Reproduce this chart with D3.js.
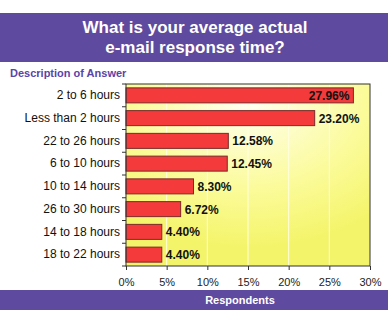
<!DOCTYPE html>
<html><head><meta charset="utf-8">
<script src="https://cdn.jsdelivr.net/npm/d3@7/dist/d3.min.js"></script>
<style>body{margin:0;background:#fff}svg{display:block;font-family:"Liberation Sans",Arial,sans-serif}</style>
</head><body><svg id="c" width="390" height="329"></svg>
<script>
const categories = ["2 to 6 hours","Less than 2 hours","22 to 26 hours","6 to 10 hours","10 to 14 hours","26 to 30 hours","14 to 18 hours","18 to 22 hours"];
const values = [27.96,23.20,12.58,12.45,8.30,6.72,4.40,4.40];
const xTicks = [0,5,10,15,20,25,30];
const titleLines = ["What is your average actual","e-mail response time?"];

const svg = d3.select("#c");
const L=126,R=370,T=84,B=266;
const x = d3.scaleLinear().domain([0,30]).range([L,R]);
const y = d3.scaleBand().domain(categories).range([T,B]).paddingInner(0.34).paddingOuter(0.17);

const defs = svg.append("defs");
const g = defs.append("radialGradient").attr("id","bg").attr("cx","0.5").attr("cy","0.1").attr("r","0.8");
g.append("stop").attr("offset","0").attr("stop-color","#fffff2");
g.append("stop").attr("offset","0.6").attr("stop-color","#fbfb9a");
g.append("stop").attr("offset","1").attr("stop-color","#f4f46a");

// title band
svg.append("rect").attr("x",0).attr("y",13).attr("width",388).attr("height",49).attr("fill","#5e4a9e");
svg.selectAll("text.t").data(titleLines).enter().append("text").attr("class","t")
 .attr("x",195).attr("y",(d,i)=>33+i*20).attr("text-anchor","middle").attr("fill","#fff")
 .attr("font-weight","bold").attr("font-size",17).text(d=>d);

svg.append("text").attr("x",10).attr("y",77).attr("fill","#5a44a8").attr("font-weight","bold").attr("font-size",11).text("Description of Answer");

// plot bg
svg.append("rect").attr("x",L).attr("y",T).attr("width",R-L).attr("height",B-T).attr("fill","url(#bg)");
// grid
svg.selectAll("line.g").data(xTicks.slice(1,-1)).enter().append("line")
 .attr("x1",d=>x(d)).attr("x2",d=>x(d)).attr("y1",T).attr("y2",B).attr("stroke","#ffffe0").attr("stroke-width",1);
// bars
svg.selectAll("rect.b").data(values).enter().append("rect")
 .attr("x",x(0)).attr("y",(d,i)=>y(categories[i])).attr("width",d=>x(d)-x(0)).attr("height",y.bandwidth())
 .attr("fill","#f43a3a").attr("stroke","#7a2a2a").attr("stroke-width",1);
// value labels
svg.selectAll("text.v").data(values).enter().append("text")
 .attr("x",(d,i)=> i===0 ? x(d)-4 : x(d)+4)
 .attr("text-anchor",(d,i)=> i===0 ? "end":"start")
 .attr("y",(d,i)=>y(categories[i])+y.bandwidth()/2+4.5)
 .attr("font-weight","bold").attr("font-size",12).attr("fill","#111")
 .text(d=>d.toFixed(2)+"%");
// frame
svg.append("rect").attr("x",L).attr("y",T).attr("width",R-L).attr("height",B-T).attr("fill","none").attr("stroke","#333").attr("stroke-width",1);

// axes
const ya = svg.append("g").attr("transform",`translate(${L},0)`).call(d3.axisLeft(y).tickSize(0).tickPadding(6));
ya.select(".domain").remove();
ya.selectAll("text").attr("font-size",12).attr("fill","#111").attr("font-family","Liberation Sans, Arial, sans-serif");
const yb = d3.range(categories.length+1).map(i=>T + i*(B-T)/categories.length);
svg.selectAll("line.yt").data(yb).enter().append("line").attr("x1",L-4).attr("x2",L).attr("y1",d=>d).attr("y2",d=>d).attr("stroke","#333");

const xa = svg.append("g").attr("transform",`translate(0,${B})`).call(d3.axisBottom(x).tickValues(xTicks).tickFormat(d=>d+"%").tickSize(4).tickPadding(8));
xa.select(".domain").remove();
xa.selectAll("line").attr("stroke","#333");
xa.selectAll("text").attr("font-size",11).attr("fill","#222").attr("font-family","Liberation Sans, Arial, sans-serif");

// bottom band
svg.append("rect").attr("x",0).attr("y",290).attr("width",388).attr("height",20).attr("fill","#5e4a9e");
svg.append("text").attr("x",240).attr("y",304).attr("text-anchor","middle").attr("fill","#fff").attr("font-weight","bold").attr("font-size",11).text("Respondents");
</script></body></html>
